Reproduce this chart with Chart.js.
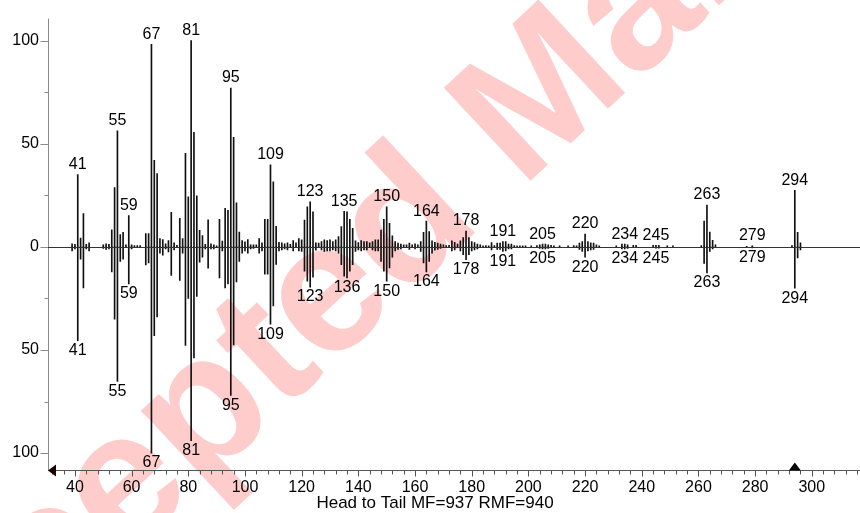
<!DOCTYPE html>
<html>
<head>
<meta charset="utf-8">
<script src="https://cdn.jsdelivr.net/npm/chart.js@4.4.1/dist/chart.umd.min.js"></script>
<style>
  html, body { margin: 0; padding: 0; background: #fff; }
  canvas { display: block; }
</style>
</head>
<body>
<canvas id="spectrum" width="860" height="513"></canvas>
<script>
// Measured spectrum (head, drawn upward)
const headMz = [39,40,41,42,43,44,45,50,51,52,53,54,55,56,57,58,59,60,61,62,63,65,66,67,68,69,70,71,72,73,74,75,76,77,78,79,80,81,82,83,84,85,86,87,88,89,90,91,92,93,94,95,96,97,98,99,100,101,102,103,104,105,106,107,108,109,110,111,112,113,114,115,116,117,118,119,120,121,122,123,124,125,126,127,128,129,130,131,132,133,134,135,136,137,138,139,140,141,142,143,144,145,146,147,148,149,150,151,152,153,154,155,156,157,158,159,160,161,162,163,164,165,166,167,168,169,170,171,172,173,174,175,176,177,178,179,180,181,182,183,184,185,186,187,188,189,190,191,192,193,194,195,196,197,198,199,201,203,204,205,206,207,208,209,211,214,216,217,218,219,220,221,222,223,224,225,231,233,234,235,237,238,244,245,246,249,251,261,262,263,264,265,266,277,279,293,294,295,296];
const headAbund = [1.5,1.2,35,4.3,16.2,1.2,2,1,1.5,1.2,8.3,28.8,56.3,6,7,1,15.2,1,0.6,0.6,0.6,6.5,6.5,98.2,42,35.5,4,3.5,1.5,3,16.7,2,0.8,13.9,4,45.4,24.3,100,55.5,24.8,8,5.5,1.2,13.1,1.5,1,0.5,13.4,2.8,18.7,17.7,77,53.1,21.4,7.2,3,2.5,3.5,1,1,1,4,2,13.4,13.4,39.8,31.5,10,2.2,2,1.5,2,1.2,3,2,4,3.4,13,19.4,21.8,17,2,1.8,2.6,3.4,3,3.4,2.6,3.4,5,9.8,17.2,17,13.4,9,2.9,2.1,3,2.6,2.6,2,2.6,3.4,3.4,8.2,13.4,19.4,11.4,5.4,2.6,1.8,1.3,1,1,1.8,1,1.5,1,2.6,7,12.5,7.4,2.9,2.2,1.8,1.3,1,0.6,0.8,2.9,2.2,1.3,2.9,4.5,7.7,4.5,2.6,2.1,1.4,1,0.5,0.6,0.5,2.1,0.6,1.8,1.8,2.6,2.6,1.4,1.4,0.6,0.5,0.5,0.5,0.5,0.5,0.6,1,1.3,1.3,1,0.8,0.5,0.5,0.5,0.6,0.5,1.8,2.6,6.2,2.6,2,1.8,1,0.5,0.5,1.3,1.3,1,0.8,0.8,0.8,0.8,0.8,0.5,0.5,0.6,12.5,20.3,7.2,3.2,1,0.3,0.5,0.6,27.4,7,2];

// Library spectrum (tail, drawn downward)
const tailMz = [39,40,41,42,43,44,45,50,51,52,53,54,55,56,57,59,60,65,66,67,68,69,70,71,72,73,74,75,77,78,79,80,81,82,83,84,85,86,87,88,89,91,92,93,94,95,96,97,98,99,100,101,102,103,105,106,107,108,109,110,111,112,113,114,115,117,119,120,121,122,123,124,125,127,128,129,130,131,132,133,134,135,136,137,138,139,140,141,142,143,145,146,147,148,149,150,151,152,153,154,155,158,160,162,163,164,165,166,167,168,169,173,174,176,177,178,179,180,181,182,187,189,190,191,192,193,194,204,205,206,207,218,219,220,221,222,223,233,234,235,245,246,262,263,264,265,279,294,295,296];
const tailAbund = [2,1,45.5,6,19.9,1,2,0.8,1.2,1,12.2,35.1,65.2,7,6,18,1,8.7,7.8,100,43,34,3,4,1,2.5,13.8,1.5,16.3,3,47.8,25,94,53.8,24,7.4,5,1,10.3,1,1,15,2,19.9,18,72,47.6,17,7,3,2,3,1,0.8,3,2,13.2,13.2,37.5,28.6,8.5,2,1.5,1,1.5,2,2,2.2,11.8,16.6,19.5,14.7,1.6,1.5,2.2,2,2,1.5,2,3,8.6,14.2,15,11.8,8.6,2.2,1.5,2,1.5,1.5,1.5,2,2,7,11.8,16.6,10.2,5,2,1.2,1,1.2,1,2.2,7.8,12.2,7,3,1.6,1.2,0.8,2,1.5,2,3.8,6.2,3.8,2,1.5,1,1.5,1.2,1.2,2.2,2,1,1,0.8,1,1,0.8,1.2,2.2,5,2,1.5,1.2,1,1,0.8,0.6,0.6,8,12.6,2.2,1,0.5,20,5.4,1.5];

// Peaks annotated with their m/z
const headLabelMz = [41,55,59,67,81,95,109,123,135,150,164,178,191,205,220,234,245,263,279,294];
const tailLabelMz = [41,55,59,67,81,95,109,123,136,150,164,178,191,205,220,234,245,263,279,294];

// Axis ticks
const xTickValues = [40,60,80,100,120,140,160,180,200,220,240,260,280,300];
const yTickValues = [-100,-50,0,50,100];
const yMinorValues = [-75,-25,25,75];

const markerMz = 294;
const footerText = 'Head to Tail MF=937 RMF=940';
const watermarkText = 'Accepted Manuscript';

const FONT = '"Liberation Sans", Arial, Helvetica, sans-serif';

function abundanceAt(mzList, abundList, mz) {
  const i = mzList.indexOf(mz);
  return i < 0 ? 0 : abundList[i];
}

const spectrumDecor = {
  id: 'spectrumDecor',
  beforeDraw(chart) {
    const ctx = chart.ctx;
    ctx.save();
    ctx.translate(-160, 755);
    ctx.rotate(-43 * Math.PI / 180);
    ctx.font = 'bold 185px ' + FONT;
    ctx.fillStyle = 'rgba(255, 0, 0, 0.2)';
    ctx.textAlign = 'left';
    ctx.textBaseline = 'middle';
    ctx.fillText(watermarkText, 0, 0);
    ctx.restore();
  },
  afterDatasetsDraw(chart) {
    const { ctx, chartArea: a, scales: { x, y } } = chart;
    ctx.save();
    ctx.lineWidth = 1;

    // vertical axis with ticks
    const ax = Math.round(a.left) + 0.5;
    ctx.strokeStyle = '#8a8a8a';
    ctx.beginPath();
    ctx.moveTo(ax, a.top);
    ctx.lineTo(ax, a.bottom);
    yTickValues.forEach(v => {
      const py = Math.round(y.getPixelForValue(v)) + 0.5;
      ctx.moveTo(ax - 8, py); ctx.lineTo(ax, py);
    });
    yMinorValues.forEach(v => {
      const py = Math.round(y.getPixelForValue(v)) + 0.5;
      ctx.moveTo(ax - 4, py); ctx.lineTo(ax, py);
    });
    ctx.stroke();

    // baseline at zero abundance
    const zy = Math.round(y.getPixelForValue(0)) + 0.5;
    ctx.strokeStyle = '#333';
    ctx.beginPath();
    ctx.moveTo(a.left, zy); ctx.lineTo(a.right, zy);
    ctx.stroke();

    // horizontal axis with ticks
    const by = Math.round(a.bottom) + 0.5;
    ctx.strokeStyle = '#555';
    ctx.beginPath();
    ctx.moveTo(a.left, by); ctx.lineTo(a.right, by);
    for (let m = Math.ceil(x.min / 4) * 4; m <= x.max; m += 4) {
      const px = Math.round(x.getPixelForValue(m)) + 0.5;
      const len = (m % 20 === 0) ? 6 : 4;
      ctx.moveTo(px, by); ctx.lineTo(px, by + len);
    }
    ctx.stroke();

    // range markers on the m/z axis
    ctx.fillStyle = '#1a0000';
    ctx.beginPath();
    ctx.moveTo(a.left, by);
    ctx.lineTo(a.left + 8, by - 6);
    ctx.lineTo(a.left + 8, by + 6);
    ctx.closePath();
    ctx.fill();
    const mx = x.getPixelForValue(markerMz);
    ctx.fillStyle = '#000';
    ctx.beginPath();
    ctx.moveTo(mx, by - 8);
    ctx.lineTo(mx - 6, by);
    ctx.lineTo(mx + 6, by);
    ctx.closePath();
    ctx.fill();

    // peak annotations
    ctx.font = '16px ' + FONT;
    ctx.fillStyle = '#000';
    ctx.textAlign = 'center';
    ctx.textBaseline = 'middle';
    headLabelMz.forEach(m => {
      const v = abundanceAt(headMz, headAbund, m);
      ctx.fillText(String(m), x.getPixelForValue(m), y.getPixelForValue(v) - 10);
    });
    tailLabelMz.forEach(m => {
      const v = abundanceAt(tailMz, tailAbund, m);
      ctx.fillText(String(m), x.getPixelForValue(m), y.getPixelForValue(-v) + 10);
    });

    // footer caption
    ctx.font = '17px ' + FONT;
    ctx.fillText(footerText, 435, 503);
    ctx.restore();
  }
};

new Chart(document.getElementById('spectrum'), {
  type: 'bar',
  data: {
    datasets: [
      {
        label: 'head',
        data: headMz.map((m, i) => ({ x: m, y: headAbund[i] })),
        backgroundColor: '#111',
        borderWidth: 0,
        barThickness: 1,
        grouped: false
      },
      {
        label: 'tail',
        data: tailMz.map((m, i) => ({ x: m, y: -tailAbund[i] })),
        backgroundColor: '#111',
        borderWidth: 0,
        barThickness: 1,
        grouped: false
      }
    ]
  },
  options: {
    responsive: false,
    animation: false,
    devicePixelRatio: 1,
    layout: { padding: { top: 15, right: 0, left: 0, bottom: 0 } },
    plugins: {
      legend: { display: false },
      tooltip: { enabled: false },
      title: { display: false }
    },
    scales: {
      x: {
        type: 'linear',
        min: 30.5,
        max: 317,
        offset: false,
        grid: { display: false, drawTicks: false },
        border: { display: false },
        afterBuildTicks: s => { s.ticks = xTickValues.map(v => ({ value: v })); },
        afterFit: s => { s.height = 43; },
        ticks: {
          autoSkip: false,
          maxRotation: 0,
          padding: 8,
          color: '#000',
          font: { family: FONT, size: 16 }
        }
      },
      y: {
        min: -108.2,
        max: 110.7,
        grid: { display: false, drawTicks: false },
        border: { display: false },
        afterBuildTicks: s => { s.ticks = yTickValues.map(v => ({ value: v })); },
        afterFit: s => { s.width = 48; },
        ticks: {
          padding: 9,
          color: '#000',
          font: { family: FONT, size: 16 },
          callback: v => String(Math.abs(v))
        }
      }
    }
  },
  plugins: [spectrumDecor]
});
</script>
</body>
</html>
